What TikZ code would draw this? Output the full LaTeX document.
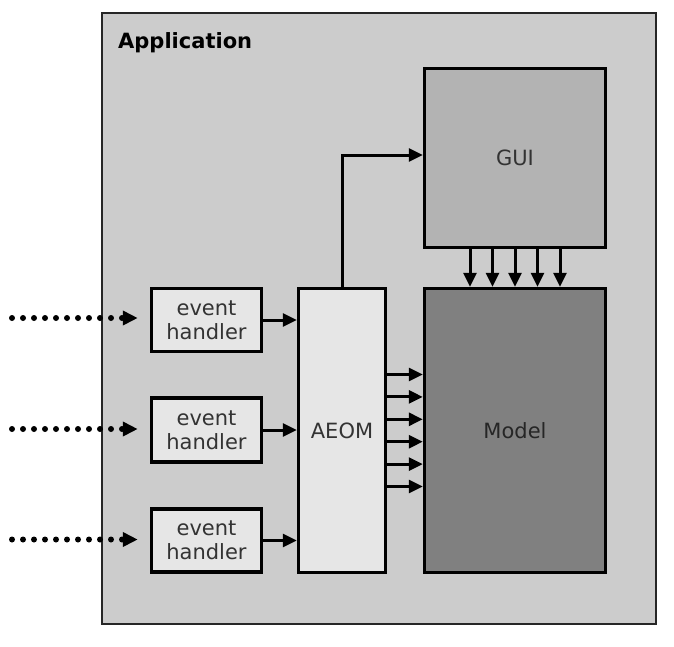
\documentclass[tikz,border=0pt]{standalone}
\usepackage{fontspec}
\setmainfont{DejaVu Sans}
\usetikzlibrary{arrows.meta}
\definecolor{appgray}{HTML}{CCCCCC}
\definecolor{guigray}{HTML}{B3B3B3}
\definecolor{modelgray}{HTML}{808080}
\definecolor{lightbox}{HTML}{E6E6E6}
\tikzset{
 box/.style={draw=black,line width=3.5pt,inner sep=0pt,font=\fontsize{21}{24}\selectfont,text=black!80,align=center},
 arr/.style={line width=3pt,-{Triangle[length=14pt,width=13pt]}},
 dots/.style={line width=6pt,line cap=round,dash pattern=on 0pt off 11pt,shorten >=12pt,-{Triangle[length=15pt,width=14pt]}}
}
\begin{document}
\begin{tikzpicture}[x=1pt,y=-1pt]
 \useasboundingbox (0,0) rectangle (674,646);
 % application frame
 \node[draw=black!85,line width=2pt,fill=appgray,minimum width=554pt,minimum height=611pt,inner sep=0pt] (app) at (379,318.5) {};
 \node[anchor=base west,font=\bfseries\fontsize{21}{24}\selectfont,inner sep=0pt] (apptitle) at (118,48) {Application};
 % blocks
 \node[box,fill=guigray,minimum width=181pt,minimum height=179pt] (gui) at (515,158) {GUI};
 \node[box,fill=modelgray,minimum width=181pt,minimum height=284pt,text=black!85] (model) at (515,430.5) {Model};
 \node[box,fill=lightbox,minimum width=87pt,minimum height=284pt] (aeom) at (342,430.5) {AEOM};
 \node[box,fill=lightbox,minimum width=110pt,minimum height=63pt] (eh1) at (206.5,320) {event\\handler};
 \node[box,fill=lightbox,minimum width=110pt,minimum height=64pt] (eh2) at (206.5,430) {event\\handler};
 \node[box,fill=lightbox,minimum width=110pt,minimum height=63pt] (eh3) at (206.5,540.5) {event\\handler};
 % incoming events
 \coordinate (in1) at (12,318);
 \coordinate (in2) at (12,429);
 \coordinate (in3) at (12,539.5);
 \draw[dots] (in1) -- (in1 -| eh1.west);
 \draw[dots] (in2) -- (in2 -| eh2.west);
 \draw[dots] (in3) -- (in3 -| eh3.west);
 % handlers to AEOM
 \draw[arr] (eh1.east) -- (eh1.east -| aeom.west);
 \draw[arr] (eh2.east) -- (eh2.east -| aeom.west);
 \draw[arr] (eh3.east) -- (eh3.east -| aeom.west);
 % AEOM to GUI
 \draw[arr] (aeom.north) |- ([yshift=3pt]gui.west);
 % GUI to model
 \foreach \dx in {-45,-22.5,0,22.5,45}
  \draw[arr] ([xshift=\dx pt]gui.south) -- ([xshift=\dx pt]model.north);
 % AEOM to model
 \foreach \dy in {56,33.6,11.2,-11.2,-33.6,-56}
  \draw[arr] ([yshift=\dy pt]aeom.east) -- ([yshift=\dy pt]model.west);
\end{tikzpicture}
\end{document}
